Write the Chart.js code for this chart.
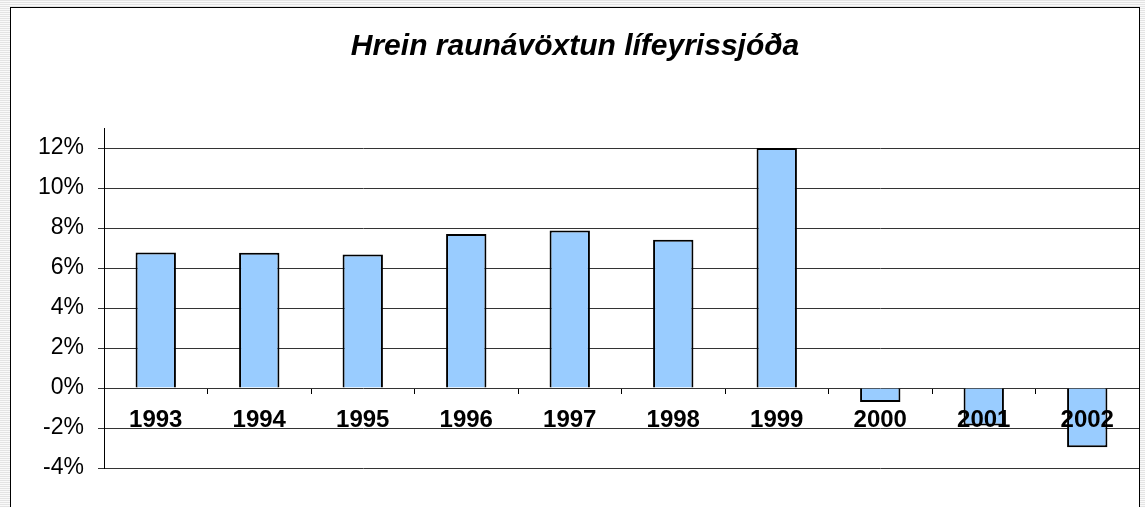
<!DOCTYPE html>
<html>
<head>
<meta charset="utf-8">
<script src="https://cdn.jsdelivr.net/npm/chart.js@4/dist/chart.umd.min.js"></script>
<style>
  body {
    margin: 0;
    width: 1145px;
    height: 507px;
    overflow: hidden;
    background: repeating-linear-gradient(0deg, #e4e4e4 0px, #e4e4e4 1px, #fafafa 1px, #fafafa 2px);
  }
  #frame {
    position: absolute;
    left: 10px;
    top: 7px;
    width: 1128px;
    height: 510px;
    border: 1px solid #000;
    background: #fff;
  }
  #wrap { position: relative; width: 1128px; height: 499px; }
</style>
</head>
<body>
<div id="frame">
  <div id="wrap"><canvas id="chart"></canvas></div>
</div>
<script>
// Hrein raunávöxtun lífeyrissjóða (%)
const years = ['1993', '1994', '1995', '1996', '1997', '1998', '1999', '2000', '2001', '2002'];
const returns = [6.77, 6.76, 6.68, 7.70, 7.88, 7.41, 12.0, -0.70, -1.88, -2.96];
const yTicks = [-4, -2, 0, 2, 4, 6, 8, 10, 12];

const ctx = document.getElementById('chart').getContext('2d');
new Chart(ctx, {
  type: 'bar',
  data: {
    labels: years,
    datasets: [{
      data: returns,
      backgroundColor: '#99ccff',
      borderColor: '#000',
      borderWidth: 2,
      barPercentage: 0.39,
      categoryPercentage: 1
    }]
  },
  options: {
    responsive: true,
    maintainAspectRatio: false,
    animation: false,
    layout: { padding: { left: 0, right: 0, top: 0, bottom: 39 } },
    plugins: {
      legend: { display: false },
      tooltip: { enabled: false },
      title: {
        display: true,
        text: 'Hrein raunávöxtun lífeyrissjóða',
        color: '#000',
        font: { family: 'Arial, "Liberation Sans"', size: 30, weight: 'bold', style: 'italic' },
        padding: { top: 21, bottom: 63 }
      }
    },
    scales: {
      x: {
        position: { y: 0 },
        grid: { drawOnChartArea: false, offset: true, tickLength: 6, color: '#000' },
        border: { display: false },
        ticks: {
          z: 1, // labels drawn over the bars
          color: '#000',
          padding: 12,
          font: { family: 'Arial, "Liberation Sans"', size: 24, weight: 'bold' }
        }
      },
      y: {
        min: -4,
        max: 13,
        afterFit: (scale) => { scale.width = 93; },
        afterBuildTicks: (scale) => { scale.ticks = yTicks.map(v => ({ value: v })); },
        grid: { color: '#333', tickLength: 6 },
        border: { display: true, color: '#000', width: 1 },
        ticks: {
          color: '#000',
          padding: 14,
          font: { family: 'Arial, "Liberation Sans"', size: 23 },
          callback: (v) => v + '%'
        }
      }
    }
  }
});
</script>
</body>
</html>
